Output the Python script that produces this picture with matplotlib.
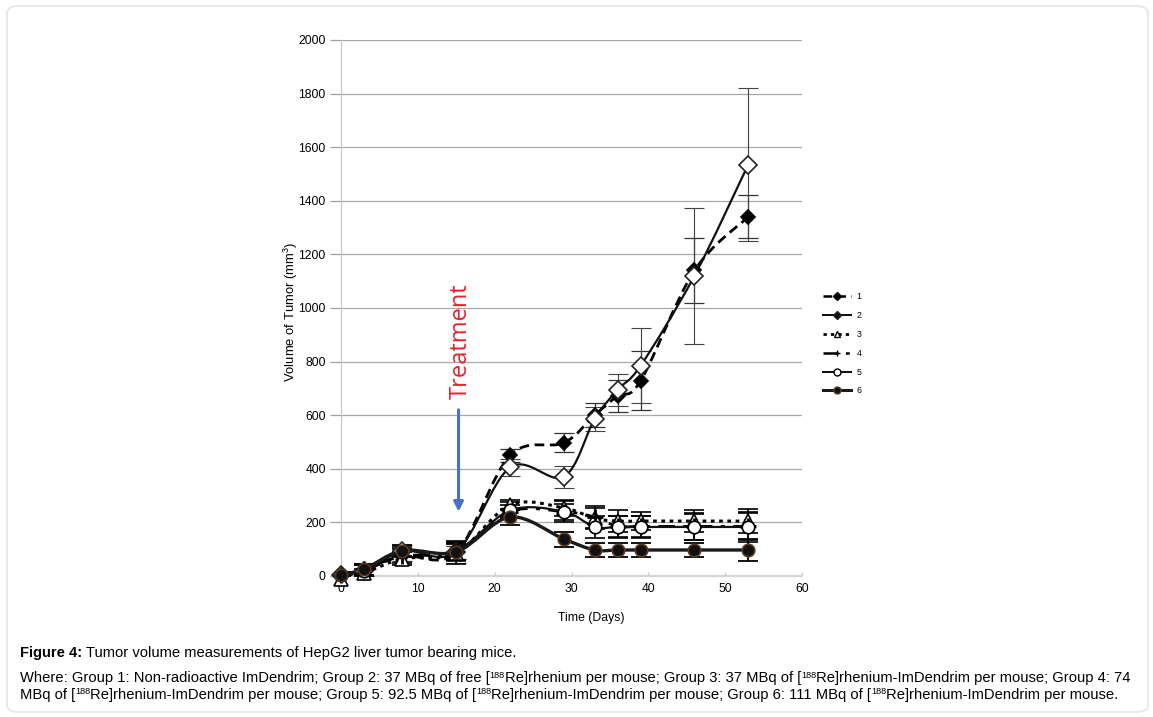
import matplotlib
matplotlib.use("Agg")
import matplotlib.pyplot as plt
from matplotlib.path import Path
from matplotlib.patches import PathPatch, FancyBboxPatch
from matplotlib.lines import Line2D
import numpy as np

plt.rcParams['font.family'] = ['Liberation Sans', 'DejaVu Sans']
plt.rcParams['mathtext.fontset'] = 'custom'
plt.rcParams['mathtext.rm'] = 'Liberation Sans'
plt.rcParams['mathtext.default'] = 'regular'

# ---------------- data ----------------
days = [0, 3, 8, 15, 22, 29, 33, 36, 39, 46, 53]
g1 = [5, 20, 75, 88, 450, 497, 600, 672, 728, 1140, 1340]
g1_err = [10, 20, 20, 25, 25, 35, 45, 60, 110, 120, 80]
g2 = [5, 20, 95, 90, 405, 370, 585, 695, 785, 1120, 1535]
g2_err = [10, 25, 20, 40, 30, 40, 45, 60, 140, 255, 285]
g3 = [-10, 10, 65, 85, 265, 254, 215, 205, 205, 205, 205]
g3_err = [10, 15, 25, 40, 20, 30, 40, 40, 35, 40, 45]
g4 = [5, 25, 75, 90, 240, 240, 220, 185, 185, 185, 185]
g4_err = [10, 20, 25, 35, 25, 30, 40, 40, 40, 50, 50]
g5 = [5, 20, 90, 95, 245, 240, 183, 183, 183, 183, 183]
g5_err = [10, 20, 20, 35, 30, 40, 40, 40, 40, 50, 55]
g6 = [5, 25, 95, 90, 220, 138, 97, 97, 97, 97, 97]
g6_err = [10, 20, 20, 30, 30, 28, 25, 25, 25, 25, 40]
labels = ["1", "2", "3", "4", "5", "6"]
y_ticks = [0, 200, 400, 600, 800, 1000, 1200, 1400, 1600, 1800, 2000]
x_ticks = [0, 10, 20, 30, 40, 50, 60]
treatment_day = 15.3

W, H = 1153, 717
fig = plt.figure(figsize=(W / 100, H / 100), dpi=100)

# outer rounded frame
frame = FancyBboxPatch((7 / W, 5 / H), (1141) / W, (706) / H,
                       boxstyle="round,pad=0,rounding_size=0.01",
                       transform=fig.transFigure, fc='none', ec='#e6e4e6', lw=1.2,
                       zorder=-5)
fig.patches.append(frame)

ax = fig.add_axes([341 / W, 1 - 576 / H, (802 - 341) / W, (576 - 40) / H])
ax.patch.set_alpha(0)
ax.set_xlim(0, 60)
ax.set_ylim(0, 2000)
ax.set_yticks(y_ticks)
ax.set_xticks(x_ticks)
ax.tick_params(axis='y', direction='out', length=8, color='#a0a0a0', width=0.9,
               labelsize=8.7, pad=3)
ax.tick_params(axis='x', direction='in', length=3, color='#d0d0d0', width=1,
               labelsize=8.7, pad=5)
ax.grid(axis='y', color='#a8a8a8', lw=0.9)
ax.set_axisbelow(True)
for s in ['top', 'right']:
    ax.spines[s].set_visible(False)
ax.spines['left'].set_color('#c4c4c4')
ax.spines['bottom'].set_color('#d4d4d4')
ax.spines['bottom'].set_linewidth(1.6)
ax.set_xlabel("Time (Days)", fontsize=8.8)
ax.xaxis.set_label_coords((591 - 341) / 461, -(612 - 576) / 536)
ax.set_ylabel("Volume of Tumor (mm$^{3}$)", fontsize=9.4)
ax.yaxis.set_label_coords(-(341 - 300) / 461, (576 - 312) / 536)

fig.canvas.draw()


def smooth_path(xs, ys):
    pts = ax.transData.transform(np.column_stack([xs, ys]))
    n = len(pts)
    verts = [pts[0]]
    codes = [Path.MOVETO]
    for i in range(n - 1):
        p0 = pts[i - 1] if i > 0 else pts[i]
        p1 = pts[i]
        p2 = pts[i + 1]
        p3 = pts[i + 2] if i + 2 < n else pts[i + 1]
        c1 = p1 + (p2 - p0) / 6.0
        c2 = p2 - (p3 - p1) / 6.0
        verts += [c1, c2, p2]
        codes += [Path.CURVE4] * 3
    verts = ax.transData.inverted().transform(np.array(verts))
    return Path(verts, codes)


series = [
    dict(y=g1, e=g1_err, ls=(0, (3.5, 2)), lw=2.0, m='D', ms=7, mfc='black', mec='black',
         ecol='#333333', elw=0.9, color='black'),
    dict(y=g2, e=g2_err, ls='-', lw=1.6, m='D', ms=9, mfc='white', mec='#222222',
         ecol='#444444', elw=0.8, color='#111111'),
    dict(y=g3, e=g3_err, ls=(0, (1.2, 1.5)), lw=2.2, m='^', ms=10, mfc='white', mec='black',
         ecol='black', elw=1.2, color='black'),
    dict(y=g4, e=g4_err, ls=(0, (6, 3, 1.5, 3)), lw=2.0, m='+', ms=11, mfc='black', mec='black',
         ecol='black', elw=1.2, color='black'),
    dict(y=g5, e=g5_err, ls='-', lw=1.6, m='o', ms=9, mfc='white', mec='black',
         ecol='black', elw=1.2, color='#111111'),
    dict(y=g6, e=g6_err, ls='-', lw=2.4, m='o', ms=9, mfc='#111111', mec='#5a3a22',
         ecol='black', elw=1.3, color='#1a1a1a'),
]

handles = []
for i, s in enumerate(series):
    ax.errorbar(days, s['y'], yerr=s['e'], fmt='none', ecolor=s['ecol'],
                elinewidth=s['elw'], capsize=7, capthick=s['elw'], zorder=3)
    patch = PathPatch(smooth_path(days, s['y']), fc='none', ec=s['color'], lw=s['lw'],
                      ls=s['ls'], zorder=4)
    ax.add_patch(patch)
    mew = 2.0 if s['m'] == '+' else 1.2
    ax.plot(days, s['y'], ls='none', marker=s['m'], ms=s['ms'], mfc=s['mfc'],
            mec=s['mec'], mew=mew, zorder=5, clip_on=False)
    handles.append(Line2D([], [], color=s['color'], lw=s['lw'] * 0.9, ls=s['ls'],
                          marker=s['m'], ms=5 if s['m'] != 'D' else 4.5,
                          mfc=s['mfc'] if i != 1 else '#111111', mec=s['mec'], mew=1.0))

fig.legend(handles, labels, loc='upper left', bbox_to_anchor=(819 / W, 1 - 288 / H),
           frameon=False, fontsize=6.3, handlelength=3.2, handletextpad=0.6,
           labelspacing=1.12, borderpad=0)

# Treatment annotation
ax.annotate('', xy=(treatment_day, 240), xytext=(treatment_day, 620),
            arrowprops=dict(arrowstyle='-|>', color='#4472c4', lw=2.2,
                            mutation_scale=14, shrinkA=0, shrinkB=0), zorder=6)
ax.text(treatment_day + 0.3, 662, 'Treatment', rotation=90, color='#e8202a',
        fontsize=17, family=['Open Sans', 'DejaVu Sans'], ha='center', va='bottom',
        zorder=6)

# caption, drawn piece by piece so that superscripts stay small
cap = 10.6
sup = 6.6
renderer = fig.canvas.get_renderer()


def write_pieces(x_px, base_px, pieces):
    x = x_px
    for txt, kind in pieces:
        if kind == 'sup':
            t = fig.text(x / W, 1 - (base_px - 4.5) / H, txt, fontsize=sup,
                         va='baseline', ha='left')
        elif kind == 'bold':
            t = fig.text(x / W, 1 - base_px / H, txt, fontsize=cap, fontweight='bold',
                         va='baseline', ha='left')
        else:
            t = fig.text(x / W, 1 - base_px / H, txt, fontsize=cap,
                         va='baseline', ha='left')
        bb = t.get_window_extent(renderer)
        x = bb.x1


def with_re(parts):
    out = []
    for j, p in enumerate(parts):
        if j > 0:
            out.append(('188', 'sup'))
            p = 'Re]' + p
        out.append((p, 'n'))
    return out


write_pieces(20, 657, [('Figure 4:', 'bold'),
                       (' Tumor volume measurements of HepG2 liver tumor bearing mice.', 'n')])
line2 = with_re(['Where: Group 1: Non-radioactive ImDendrim; Group 2: 37 MBq of free [',
                 'rhenium per mouse; Group 3: 37 MBq of [',
                 'rhenium-ImDendrim per mouse; Group 4: 74'])
line3 = with_re(['MBq of [',
                 'rhenium-ImDendrim per mouse; Group 5: 92.5 MBq of [',
                 'rhenium-ImDendrim per mouse; Group 6: 111 MBq of [',
                 'rhenium-ImDendrim per mouse.'])
write_pieces(20, 682, line2)
write_pieces(20, 699, line3)

fig.savefig('out.png', dpi=100)
